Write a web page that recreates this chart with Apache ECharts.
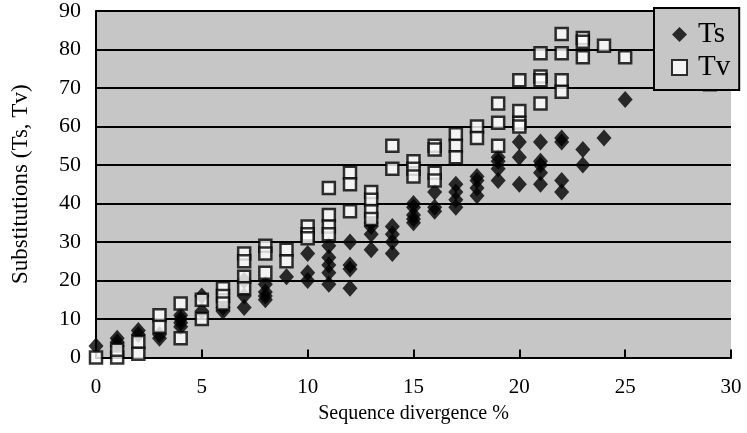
<!DOCTYPE html>
<html>
<head>
<meta charset="utf-8">
<title>Ts / Tv substitutions</title>
<script src="https://cdn.jsdelivr.net/npm/echarts@6/dist/echarts.min.js"></script>
<style>
  html, body { margin: 0; padding: 0; background: #fff; }
  #chart { width: 747px; height: 433px; }
</style>
</head>
<body>
<div id="chart"></div>
<script>
// values: [divergence %, substitutions]
var tsData = [
  [0, 3], [1, 5], [1, 4], [1, 3], [2, 7], [2, 6], [3, 5], [3, 6],
  [4, 11], [4, 10], [4, 9], [4, 8], [5, 16], [5, 12], [6, 13], [6, 12],
  [7, 20], [7, 16], [7, 13], [8, 19], [8, 17], [8, 16], [8, 15], [9, 21],
  [10, 27], [10, 22], [10, 20], [11, 29], [11, 26], [11, 24], [11, 22], [11, 19],
  [12, 30], [12, 24], [12, 23], [12, 18], [13, 35], [13, 34], [13, 32], [13, 28],
  [14, 34], [14, 32], [14, 30], [14, 27], [15, 40], [15, 39], [15, 37], [15, 36], [15, 35],
  [16, 43], [16, 39], [16, 38], [17, 45], [17, 43], [17, 41], [17, 39],
  [18, 47], [18, 46], [18, 44], [18, 42], [19, 52], [19, 51], [19, 49], [19, 46],
  [20, 56], [20, 52], [20, 45], [21, 56], [21, 51], [21, 50], [21, 48], [21, 45],
  [22, 57], [22, 56], [22, 46], [22, 43], [23, 54], [23, 50], [24, 57], [25, 67]
];
var tvData = [
  [0, 0], [1, 0], [1, 2], [2, 4], [2, 1], [3, 11], [3, 8], [4, 14], [4, 5],
  [5, 15], [5, 10], [6, 18], [6, 16], [6, 14], [7, 27], [7, 25], [7, 21], [7, 18],
  [8, 29], [8, 27], [8, 22], [9, 28], [9, 25], [10, 34], [10, 32], [10, 31],
  [11, 44], [11, 37], [11, 34], [11, 32], [12, 48], [12, 45], [12, 38],
  [13, 43], [13, 41], [13, 38], [13, 36], [14, 55], [14, 49], [15, 51], [15, 49], [15, 47],
  [16, 55], [16, 54], [16, 48], [16, 46], [17, 58], [17, 55], [17, 52], [18, 60], [18, 57],
  [19, 66], [19, 61], [19, 55], [20, 72], [20, 64], [20, 61], [20, 60],
  [21, 79], [21, 73], [21, 72], [21, 66], [22, 84], [22, 79], [22, 72], [22, 69],
  [23, 83], [23, 82], [23, 78], [24, 81], [25, 78], [29, 71]
];
var seriesNames = ['Ts', 'Tv'];
var xTicks = { min: 0, max: 30, step: 5 };
var yTicks = { min: 0, max: 90, step: 10 };

var serif = 'Liberation Serif';
var chart = echarts.init(document.getElementById('chart'));

var option = {
  backgroundColor: '#fff',
  animation: false,
  grid: {
    left: 96, right: 16, top: 11, bottom: 75.5,
    show: true,
    backgroundColor: '#c6c6c6',
    borderWidth: 0
  },
  legend: {
    orient: 'vertical',
    left: 654,
    top: 8,
    backgroundColor: '#c6c6c6',
    borderColor: '#000',
    borderWidth: 2,
    padding: [12, 9, 8, 17],
    itemGap: 4,
    itemWidth: 15,
    itemHeight: 15,
    textStyle: { fontFamily: serif, fontSize: 29, lineHeight: 26, color: '#000', padding: [0, 0, 0, 6] },
    data: seriesNames
  },
  xAxis: {
    type: 'value',
    min: xTicks.min, max: xTicks.max, interval: xTicks.step,
    name: 'Sequence divergence %',
    nameLocation: 'middle',
    nameGap: 46,
    nameTextStyle: { fontFamily: serif, fontSize: 20, color: '#000' },
    axisLine: { show: true, lineStyle: { color: '#000', width: 2 } },
    axisTick: { show: true, inside: true, length: 8, lineStyle: { color: '#000', width: 2 } },
    axisLabel: { fontFamily: serif, fontSize: 21, color: '#000', margin: 19 },
    splitLine: { show: false }
  },
  yAxis: {
    type: 'value',
    min: yTicks.min, max: yTicks.max, interval: yTicks.step,
    name: 'Substitutions (Ts, Tv)',
    nameLocation: 'middle',
    nameRotate: 90,
    nameGap: 64,
    nameTextStyle: { fontFamily: serif, fontSize: 23, color: '#000' },
    axisLine: { show: true, lineStyle: { color: '#000', width: 2 } },
    axisTick: { show: false },
    axisLabel: { fontFamily: serif, fontSize: 22, color: '#000', margin: 15 },
    splitLine: { show: true, lineStyle: { color: '#000', width: 2 } }
  },
  series: [
    {
      name: seriesNames[0],
      type: 'scatter',
      symbol: 'diamond',
      symbolSize: [15, 17],
      itemStyle: { color: '#000' },
      data: tsData
    },
    {
      name: seriesNames[1],
      type: 'scatter',
      symbol: 'rect',
      symbolSize: 12,
      itemStyle: { color: '#fff', borderColor: '#000', borderWidth: 2.5 },
      data: tvData
    }
  ]
};

chart.setOption(option);
</script>
</body>
</html>
